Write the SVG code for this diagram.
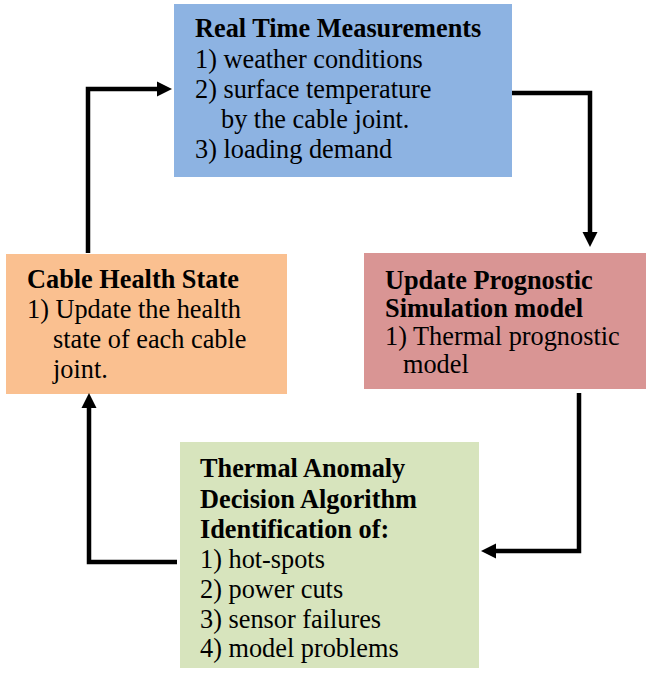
<svg xmlns="http://www.w3.org/2000/svg" width="647" height="673" viewBox="0 0 647 673">
  <style>
    .link { fill: none; stroke: #000; stroke-width: 4.5; }
  </style>
  <defs>
    <marker id="head" markerUnits="userSpaceOnUse" markerWidth="16" markerHeight="16" refX="5" refY="8" orient="auto">
      <path d="M0,0.5 L15,8 L0,15.5 z" fill="#000"/>
    </marker>
  </defs>

  <rect width="647" height="673" fill="#fff"/>

  <!-- top: live inputs -->
  <g id="measurements" font-family="Liberation Serif" font-size="26.3">
    <rect x="174" y="4" width="338" height="173" fill="#8DB3E2"/>
    <text x="195" y="37" font-weight="bold">Real Time Measurements</text>
    <text x="195" y="68">1) weather conditions</text>
    <text x="195" y="98">2) surface temperature</text>
    <text x="221" y="128">by the cable joint.</text>
    <text x="195" y="158">3) loading demand</text>
  </g>

  <!-- right: model update -->
  <g id="prognostic" font-family="Liberation Serif" font-size="26.3">
    <rect x="364" y="253" width="282" height="136" fill="#D99594"/>
    <text x="385" y="289" font-weight="bold">Update Prognostic</text>
    <text x="385" y="317" font-weight="bold">Simulation model</text>
    <text x="385" y="345">1) Thermal prognostic</text>
    <text x="403" y="373">model</text>
  </g>

  <!-- bottom: decision step -->
  <g id="anomaly" font-family="Liberation Serif" font-size="26.3">
    <rect x="180" y="442" width="299" height="226" fill="#D7E4BD"/>
    <text x="200" y="477" font-weight="bold">Thermal Anomaly</text>
    <text x="200" y="508" font-weight="bold">Decision Algorithm</text>
    <text x="200" y="538" font-weight="bold">Identification of:</text>
    <text x="200" y="568">1) hot-spots</text>
    <text x="200" y="598">2) power cuts</text>
    <text x="200" y="628">3) sensor failures</text>
    <text x="200" y="657">4) model problems</text>
  </g>

  <!-- left: health state -->
  <g id="health" font-family="Liberation Serif" font-size="26.3">
    <rect x="6" y="254" width="281" height="140" fill="#FAC090"/>
    <text x="27" y="288" font-weight="bold">Cable Health State</text>
    <text x="27" y="318">1) Update the health</text>
    <text x="53" y="348">state of each cable</text>
    <text x="53" y="378">joint.</text>
  </g>

  <!-- clockwise loop -->
  <g id="connectors">
    <path class="link" d="M88,253 V89 H162" marker-end="url(#head)"/>
    <path class="link" d="M512,93 H590 V237" marker-end="url(#head)"/>
    <path class="link" d="M579,393 V551 H491" marker-end="url(#head)"/>
    <path class="link" d="M177,562 H89 V403" marker-end="url(#head)"/>
  </g>
</svg>
